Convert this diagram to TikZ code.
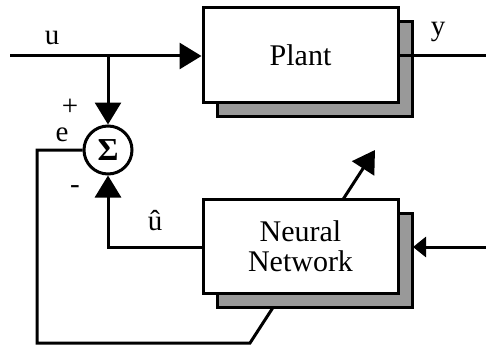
\documentclass[tikz,border=0pt]{standalone}
\usepackage{fontspec}
\setmainfont{Liberation Serif}
\usetikzlibrary{arrows.meta,shadows,backgrounds}
\begin{document}
\begin{tikzpicture}[x=1pt,y=-1pt,line width=3pt,
  box/.style={draw,fill=white,minimum width=195pt,minimum height=94pt,inner sep=0pt,align=center,
    font=\fontsize{30}{30}\selectfont,
    drop shadow={shadow xshift=14pt,shadow yshift=-14pt,fill=black!40,draw=black,line width=3pt,opacity=1}},
  lbl/.style={inner sep=0pt,font=\fontsize{29}{29}\selectfont},
  sumnode/.style={draw,circle,minimum size=48pt,inner sep=0pt,fill=white},
  wire/.style={draw=black,line width=3pt},
  bigtip/.style={wire,-{Triangle[length=22pt,width=26pt]}},
  smalltip/.style={wire,-{Triangle[length=13pt,width=20pt]}}]
\useasboundingbox (0,0) rectangle (486,350);
\node[box] (plant) at (300.5,55) {Plant};
\node[box] (nn) at (300.5,246.5) {Neural\\Network};
\node[sumnode] (sum) at (108,150) {\fontsize{32}{32}\selectfont\bfseries Σ};
% coordinates
\coordinate (uin) at (10,56);
\coordinate (br) at (108,56);
\coordinate (yout) at (486,56);
\coordinate (ein) at (37,150);
\coordinate (ebot) at (37,343);
\coordinate (dstart) at (250,343);
\coordinate (dend) at (375,150);
\coordinate (nnin) at (486,247);
\coordinate (nnport) at (413,247);
\coordinate (uhat) at (108,247);
% connectors
\draw[bigtip] (uin) -- (uin -| plant.west);
\draw[bigtip] (br) -- (sum.north);
\draw[wire] (uin -| plant.east) -- (yout);
\draw[bigtip] (nn.west |- uhat) -- (uhat) -- (sum.south);
\draw[smalltip] (nnin) -- (nnport);
\begin{scope}[on background layer]
\draw[bigtip,line join=miter] (sum.west) -- (ein) -- (ebot) -- (dstart) -- (dend);
\end{scope}
% labels
\node[lbl] (lu) at (52,38) {u};
\node[lbl] (ly) at (438,32) {y};
\node[lbl] (lplus) at (70,107) {+};
\node[lbl] (le) at (62,135) {e};
\node[lbl] (lminus) at (75,190) {-};
\node[lbl,align=center] (luhat) at (155,221) {û};
\end{tikzpicture}
\end{document}
